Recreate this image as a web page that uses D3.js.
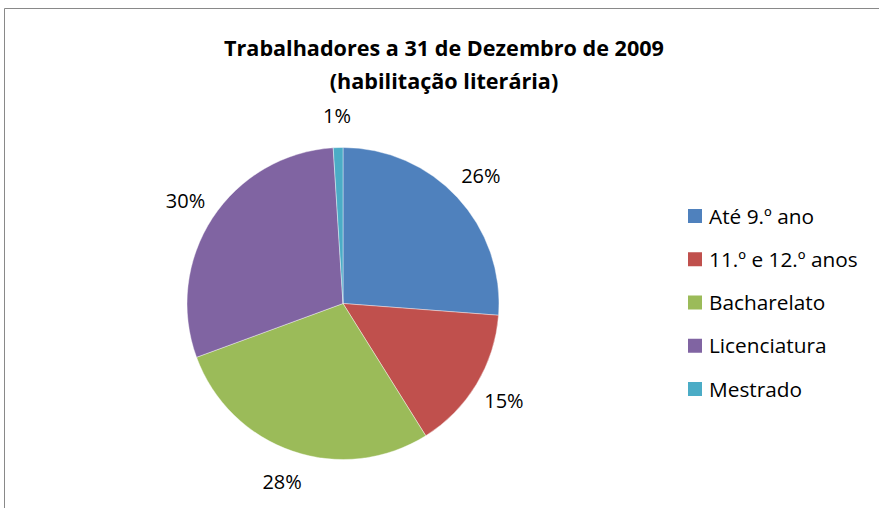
<!DOCTYPE html>
<html>
<head>
<meta charset="utf-8">
<script src="https://cdn.jsdelivr.net/npm/d3@7"></script>
<style>
  body { margin: 0; background: #fff; }
  text { font-family: "Open Sans", "DejaVu Sans", sans-serif; fill: #000; }
</style>
</head>
<body>
<div id="chart"></div>
<script>
// data
var categories = ["Até 9.º ano", "11.º e 12.º anos", "Bacharelato", "Licenciatura", "Mestrado"];
var values = [26.2, 14.9, 28.3, 29.6, 1.0];
var colors = ["#4F81BD", "#C0504D", "#9BBB59", "#8064A2", "#4BACC6"];
var titleLines = ["Trabalhadores a 31 de Dezembro de 2009", "(habilitação literária)"];

var width = 879, height = 508;
var cx = 343, cy = 303.5, radius = 156;

var svg = d3.select("#chart").append("svg")
    .attr("width", width)
    .attr("height", height);

// chart frame (only top and left edges show)
svg.append("path")
    .attr("d", "M4.5," + height + " L4.5,8.5 L" + width + ",8.5")
    .attr("fill", "none")
    .attr("stroke", "#898989")
    .attr("stroke-width", 1);

// title
svg.append("g").selectAll("text")
    .data(titleLines)
    .enter()
    .append("text")
    .attr("x", 444)
    .attr("y", function(d, i) { return 56 + i * 33; })
    .attr("text-anchor", "middle")
    .attr("font-weight", "bold")
    .attr("font-size", "21.6px")
    .text(function(d) { return d; });

var total = d3.sum(values);
var pie = d3.pie().sort(null).value(function(d) { return d; });
var arcs = pie(values);

var arc = d3.arc().innerRadius(0).outerRadius(radius);
var labelArc = d3.arc().innerRadius(radius + 32).outerRadius(radius + 32);

var pieGroup = svg.append("g")
    .attr("transform", "translate(" + cx + "," + cy + ")");

pieGroup.selectAll("path")
    .data(arcs)
    .enter()
    .append("path")
    .attr("d", arc)
    .attr("fill", function(d, i) { return colors[i]; })
    .attr("stroke", "#fff")
    .attr("stroke-width", 0.4);

pieGroup.selectAll("text")
    .data(arcs)
    .enter()
    .append("text")
    .attr("transform", function(d) { return "translate(" + labelArc.centroid(d) + ")"; })
    .attr("text-anchor", "middle")
    .attr("dy", "0.36em")
    .attr("font-size", "20px")
    .text(function(d) { return Math.round(d.value / total * 100) + "%"; });

// legend
var legendY = d3.scalePoint()
    .domain(categories)
    .range([216, 389]);

var legend = svg.append("g").selectAll("g")
    .data(categories)
    .enter()
    .append("g")
    .attr("transform", function(d) { return "translate(688," + legendY(d) + ")"; });

legend.append("rect")
    .attr("x", 0)
    .attr("y", -7)
    .attr("width", 14)
    .attr("height", 14)
    .attr("fill", function(d, i) { return colors[i]; });

legend.append("text")
    .attr("x", 21)
    .attr("dy", "0.36em")
    .attr("font-size", "20.8px")
    .text(function(d) { return d; });
</script>
</body>
</html>
